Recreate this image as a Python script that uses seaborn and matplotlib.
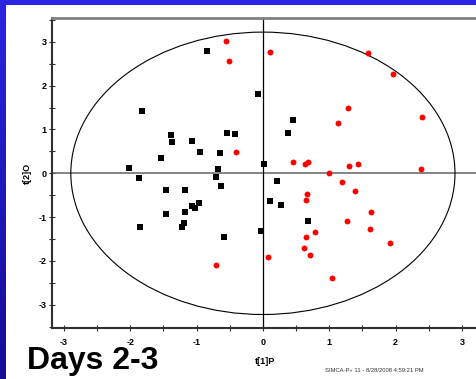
import numpy as np
import pandas as pd
import matplotlib
matplotlib.use("Agg")
import matplotlib.pyplot as plt
import seaborn as sns
from matplotlib.patches import Ellipse
from matplotlib.colors import LinearSegmentedColormap

# ---- data ----
black_x = [-0.837, -0.075, -1.825, 0.449, 0.374, -1.391, -1.376, -1.062, -0.538, -0.419,
           -0.942, -0.643, -1.540, -2.019, -0.678, 0.015, -1.869, -0.703, -0.628, 0.209,
           -1.466, -1.181, 0.105, 0.269, -0.957, -1.062, -1.027, -1.181, -1.466, 0.673,
           -1.196, -1.226, -1.854, -0.030, -0.583]
black_y = [2.80, 1.80, 1.41, 1.21, 0.91, 0.866, 0.706, 0.729, 0.911, 0.888,
           0.478, 0.456, 0.342, 0.114, 0.091, 0.205, -0.114, -0.084, -0.296, -0.182,
           -0.387, -0.387, -0.638, -0.729, -0.683, -0.752, -0.797, -0.889, -0.934, -1.094,
           -1.139, -1.230, -1.230, -1.321, -1.458]
red_x = [-0.563, -0.513, 0.100, 1.580, 1.959, 2.398, 1.281, 1.127, -0.404, 0.449,
         0.640, 0.675, 1.291, 1.426, 2.378, 1.002, 1.191, 1.381, 0.658, 0.643,
         1.630, 1.261, 1.620, 0.778, 0.643, 1.909, 0.613, 0.708, 0.080, -0.703, 1.047]
red_y = [3.01, 2.55, 2.76, 2.74, 2.27, 1.28, 1.49, 1.15, 0.486, 0.251,
         0.205, 0.266, 0.175, 0.220, 0.091, 0.0, -0.190, -0.395, -0.471, -0.600,
         -0.889, -1.078, -1.268, -1.344, -1.458, -1.580, -1.694, -1.861, -1.906, -2.096, -2.392]
x_ticks = [-3, -2, -1, 0, 1, 2, 3]
y_ticks = [-3, -2, -1, 0, 1, 2, 3]
x_label = "t[1]P"
y_label = "t[2]O"
title_text = "Days 2-3"
footer_text = "SIMCA-P+ 11 - 8/28/2008 4:59:21 PM"

df = pd.concat([
    pd.DataFrame({"x": black_x, "y": black_y, "grp": "black"}),
    pd.DataFrame({"x": red_x, "y": red_y, "grp": "red"}),
])

sns.set_style("white")
plt.rcParams["font.family"] = ["Liberation Sans", "DejaVu Sans"]
plt.rcParams["text.color"] = "black"
plt.rcParams["xtick.color"] = "black"
plt.rcParams["ytick.color"] = "black"

W, H = 477, 379
fig = plt.figure(figsize=(W / 100, H / 100), dpi=100)
fig.patch.set_facecolor("white")

# top border strip
top = fig.add_axes([0, (H - 5) / H, 1, 5 / H])
top.set_facecolor("#2b24e2")
top.set_xticks([]); top.set_yticks([])
for s in top.spines.values():
    s.set_visible(False)

# left border gradient strip
bg = fig.add_axes([0, 0, 6 / W, 1])
grad = np.linspace(0, 1, 100).reshape(-1, 1)
cmap = LinearSegmentedColormap.from_list("b", ["#150d96", "#2b24e2"])
bg.imshow(grad, aspect="auto", cmap=cmap, origin="lower", extent=[0, 1, 0, 1])
bg.set_axis_off()

# axes: left spine at x=52px, top spine at y=18px, bottom at y=328px
x0_px, x_unit = 264.5, 66.85
y0_px, y_unit = 173.3, 43.85
xmin = (52 - x0_px) / x_unit
xmax = 3.45
ymax = (y0_px - 18) / y_unit
ymin = -(328 - y0_px) / y_unit
ax_right_px = x0_px + xmax * x_unit
ax = fig.add_axes([52 / W, (H - 328) / H, (ax_right_px - 52) / W, (328 - 18) / H])
ax.set_facecolor("white")

sns.scatterplot(data=df[df.grp == "black"], x="x", y="y", ax=ax, marker="s",
                color="black", s=14, linewidth=0, legend=False, zorder=3)
sns.scatterplot(data=df[df.grp == "red"], x="x", y="y", ax=ax, marker="o",
                color="#ff0000", s=18, linewidth=0, legend=False, zorder=3)

ax.set_xlim(xmin, xmax)
ax.set_ylim(ymin, ymax)

ax.add_patch(Ellipse((0, 0), 5.79, 6.44, fill=False, edgecolor="black", linewidth=0.8, zorder=2))
ax.axhline(0, color="#707070", linewidth=1.2, zorder=1)
ax.axvline(0, color="black", linewidth=0.9, zorder=1)

ax.set_xticks(x_ticks)
ax.set_yticks(y_ticks)
ax.set_xticks(np.arange(-3, 3.51, 0.5), minor=True)
ax.set_yticks(np.arange(-3.5, 3.51, 0.5), minor=True)
ax.set_xticklabels([str(t) for t in x_ticks], fontsize=6.5, fontweight="bold")
ax.set_yticklabels([str(t) for t in y_ticks], fontsize=6.5, fontweight="bold")
ax.tick_params(axis="both", which="both", direction="inout", length=4, width=0.8,
               color="#303030", pad=2, left=True, bottom=True)
ax.tick_params(axis="x", which="major", pad=5)

for s in ["left", "bottom"]:
    ax.spines[s].set_color("#303030")
    ax.spines[s].set_linewidth(1.5)
ax.spines["top"].set_color("#808080")
ax.spines["top"].set_linewidth(2)
ax.spines["right"].set_visible(False)

ax.set_xlabel("")
ax.set_ylabel("")
fig.text(265 / W, 1 - 361 / H, x_label, ha="center", va="center", fontsize=6.5, fontweight="bold")
fig.text(27 / W, 1 - 173 / H, y_label, ha="center", va="center", fontsize=6.5,
         fontweight="bold", rotation=90)
fig.text(27 / W, 1 - 361 / H, title_text, ha="left", va="center", fontsize=23, fontweight="bold")
fig.text(325 / W, 1 - 371 / H, footer_text, ha="left", va="center", fontsize=4.2, color="#333333")

fig.savefig("out.png", dpi=100, facecolor=fig.get_facecolor())
